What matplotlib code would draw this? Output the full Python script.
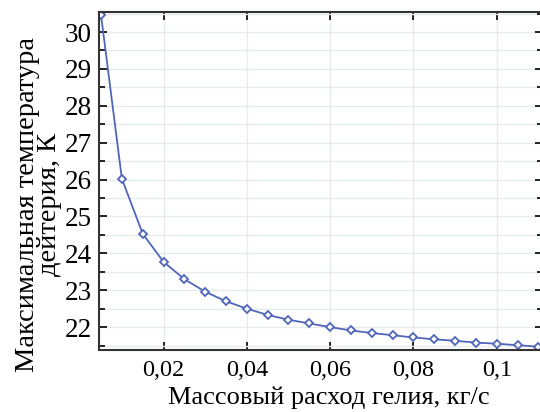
import matplotlib
matplotlib.use('Agg')
import matplotlib.pyplot as plt
from matplotlib.ticker import FixedLocator, FixedFormatter, MultipleLocator

plt.rcParams['font.family'] = ['Liberation Serif', 'DejaVu Serif']

flow = [0.005, 0.010, 0.015, 0.020, 0.025, 0.030, 0.035, 0.040, 0.045, 0.050, 0.055,
        0.060, 0.065, 0.070, 0.075, 0.080, 0.085, 0.090, 0.095, 0.100, 0.105, 0.110]
temp = [30.45, 26.02, 24.53, 23.77, 23.30, 22.96, 22.70, 22.50, 22.33, 22.20, 22.10,
        22.00, 21.91, 21.84, 21.78, 21.72, 21.67, 21.63, 21.58, 21.55, 21.51, 21.47]

xticks = [0.02, 0.04, 0.06, 0.08, 0.10]
xlabels = ['0,02', '0,04', '0,06', '0,08', '0,1']
yticks = [22, 23, 24, 25, 26, 27, 28, 29, 30]

fig = plt.figure(figsize=(5.4, 4.12), dpi=100)
ax = fig.add_axes([0.1833, 0.1505, 0.8222, 0.8192])

ax.plot(flow, temp, color='#5066bb', lw=1.3, marker='D', markersize=4.5,
        markerfacecolor='white', markeredgecolor='#5066bb', markeredgewidth=1.3)

ax.set_xlim(0.0045, 0.1111)
ax.set_ylim(21.38, 30.53)

ax.xaxis.set_major_locator(FixedLocator(xticks))
ax.xaxis.set_major_formatter(FixedFormatter(xlabels))
ax.yaxis.set_major_locator(FixedLocator(yticks))
ax.yaxis.set_minor_locator(MultipleLocator(0.5))

ax.tick_params(which='both', direction='in', top=True, right=True, width=1.2)
ax.tick_params(which='major', length=6)
ax.tick_params(which='minor', length=4)
ax.tick_params(axis='x', labelsize=17.5, pad=7)
ax.tick_params(axis='y', labelsize=19.5, pad=5)

ax.grid(True, which='major', color='#e6ebec', lw=1)
ax.grid(True, which='minor', axis='y', color='#e6ebec', lw=1)
ax.set_axisbelow(True)

for s in ax.spines.values():
    s.set_linewidth(1.5)
    s.set_color('#333333')

ax.set_xlabel('Массовый расход гелия, кг/с', fontsize=19, labelpad=4)
ax.xaxis.label.set_x(0.517)
ax.set_ylabel('Максимальная температура\nдейтерия, К', fontsize=20.5, labelpad=2,
              linespacing=0.85)
ax.yaxis.label.set_y(0.43)

fig.savefig('out.png', dpi=100)
